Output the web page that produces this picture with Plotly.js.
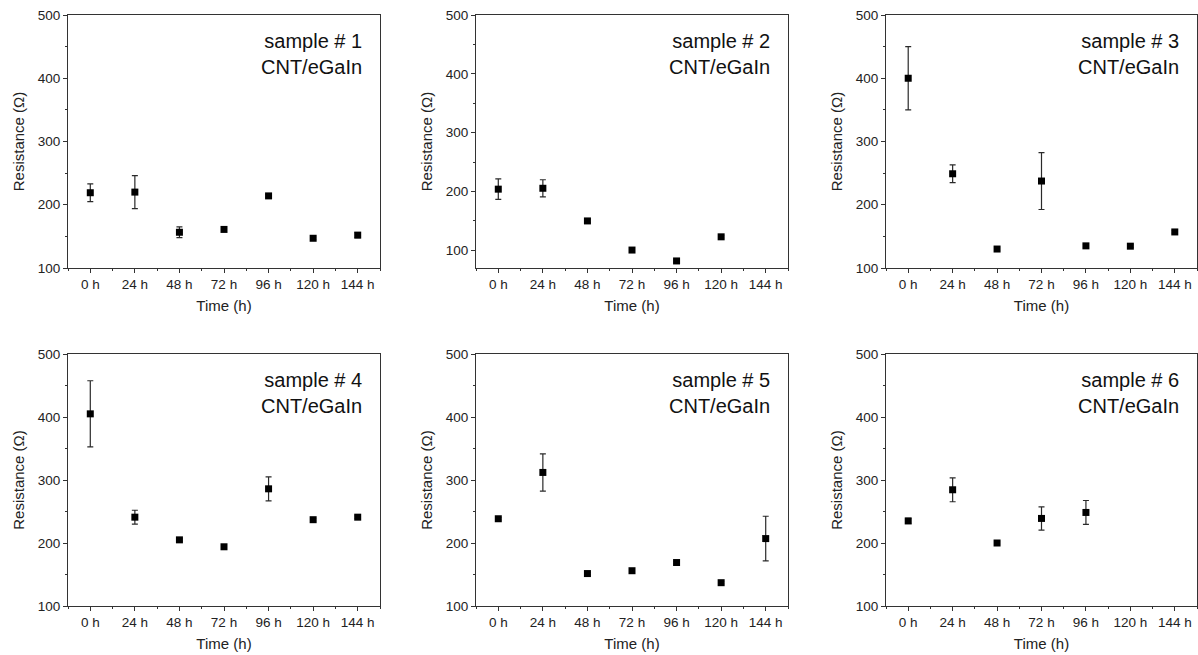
<!DOCTYPE html>
<html>
<head>
<meta charset="utf-8">
<script src="https://cdn.plot.ly/plotly-3.0.1.min.js"></script>
<style>html,body{margin:0;padding:0;background:#fff;}#chart{width:1198px;height:655px;}</style>
</head>
<body>
<div id="chart"></div>
<script>
// ---- data ----
const hours = [0, 24, 48, 72, 96, 120, 144];
const tickLabels = ['0 h', '24 h', '48 h', '72 h', '96 h', '120 h', '144 h'];
const sampleNames = ['sample # 1', 'sample # 2', 'sample # 3', 'sample # 4', 'sample # 5', 'sample # 6'];
const materialLabel = 'CNT/eGaIn';

const s1Values = [219, 220, 156.5, 161, 214, 147, 152];
const s1Errors = [14, 26, 8.5, 2, 2, 2, 4];
const s2Values = [204, 205.5, 150, 100.5, 82, 123, null];
const s2Errors = [17.5, 14.5, 3, 2, 2, 2, null];
const s3Values = [400, 249, 130, 237.5, 135, 134.5, 157];
const s3Errors = [50, 14, 2, 45, 2, 2, 2];
const s4Values = [405, 241, 205, 194, 286, 237, 241];
const s4Errors = [52.5, 11, 2, 3, 19, 2, 2];
const s5Values = [238.5, 312, 151.5, 156, 169, 137, 207];
const s5Errors = [2, 29.5, 2, 2, 2, 2, 35.5];
const s6Values = [235, 284.5, 200, 239, 248.5, null, null];
const s6Errors = [4, 19, 2, 18.5, 19, null, null];

const yMins = [100, 70, 100, 100, 100, 100];
const yMax = 500;

const xTitle = 'Time (h)';
const yTitle = 'Resistance (Ω)';

// ---- layout helpers ----
const values = [s1Values, s2Values, s3Values, s4Values, s5Values, s6Values];
const errors = [s1Errors, s2Errors, s3Errors, s4Errors, s5Errors, s6Errors];

const colDomains = [[68/1198, 380/1198], [476/1198, 788/1198], [886/1198, 1197/1198]];
const rowDomains = [[1 - 268/655, 1 - 15/655], [1 - 606/655, 1 - 354/655]];

const FONT = 'Liberation Sans, Arial, sans-serif';
const AX = '#333';

const traces = [];
const layout = {
  width: 1198, height: 655,
  margin: {l: 0, r: 0, t: 0, b: 0},
  paper_bgcolor: '#fff', plot_bgcolor: '#fff',
  showlegend: false,
  font: {family: FONT, color: '#222'},
  annotations: []
};

for (let i = 0; i < 6; i++) {
  const n = i + 1;
  const xa = 'xaxis' + (n === 1 ? '' : n);
  const ya = 'yaxis' + (n === 1 ? '' : n);
  const xr = 'x' + (n === 1 ? '' : n);
  const yr = 'y' + (n === 1 ? '' : n);
  const col = i % 3, row = Math.floor(i / 3);

  traces.push({
    type: 'scatter', mode: 'markers',
    x: hours, y: values[i],
    xaxis: xr, yaxis: yr,
    marker: {symbol: 'square', size: 7, color: '#000'},
    error_y: {type: 'data', array: errors[i], visible: true, color: '#2a2a2a', thickness: 1.2, width: 3},
    cliponaxis: false
  });

  layout[xa] = {
    domain: colDomains[col], anchor: yr,
    range: [-12, 156],
    tickmode: 'array', tickvals: hours, ticktext: tickLabels,
    ticks: 'outside', ticklen: 4, tickwidth: 1, tickcolor: AX,
    minor: {tickmode: 'linear', tick0: 0, dtick: 12, ticks: 'outside', ticklen: 2, tickcolor: AX},
    showline: true, linecolor: AX, linewidth: 1, mirror: true,
    showgrid: false, zeroline: false,
    tickfont: {family: FONT, size: 13.5, color: '#222'},
    title: {text: xTitle, font: {family: FONT, size: 15, color: '#222'}, standoff: 9}
  };
  layout[ya] = {
    domain: rowDomains[row], anchor: xr,
    range: [yMins[i], yMax],
    tickmode: 'linear', tick0: 0, dtick: 100,
    ticks: 'outside', ticklen: 4, tickwidth: 1, tickcolor: AX,
    minor: {tickmode: 'linear', tick0: 0, dtick: 50, ticks: 'outside', ticklen: 2, tickcolor: AX},
    showline: true, linecolor: AX, linewidth: 1, mirror: true,
    showgrid: false, zeroline: false,
    tickfont: {family: FONT, size: 13.5, color: '#222'},
    title: {text: yTitle, font: {family: FONT, size: 15, color: '#222'}, standoff: 9}
  };

  layout.annotations.push({
    xref: xr + ' domain', yref: yr + ' domain',
    x: 1, y: 1, xanchor: 'right', yanchor: 'top',
    xshift: -16, yshift: -13,
    align: 'right', showarrow: false,
    text: sampleNames[i] + '<br>' + materialLabel,
    font: {family: FONT, size: 20, color: '#111'}
  });
}

Plotly.newPlot('chart', traces, layout, {staticPlot: true, displayModeBar: false});
</script>
</body>
</html>
